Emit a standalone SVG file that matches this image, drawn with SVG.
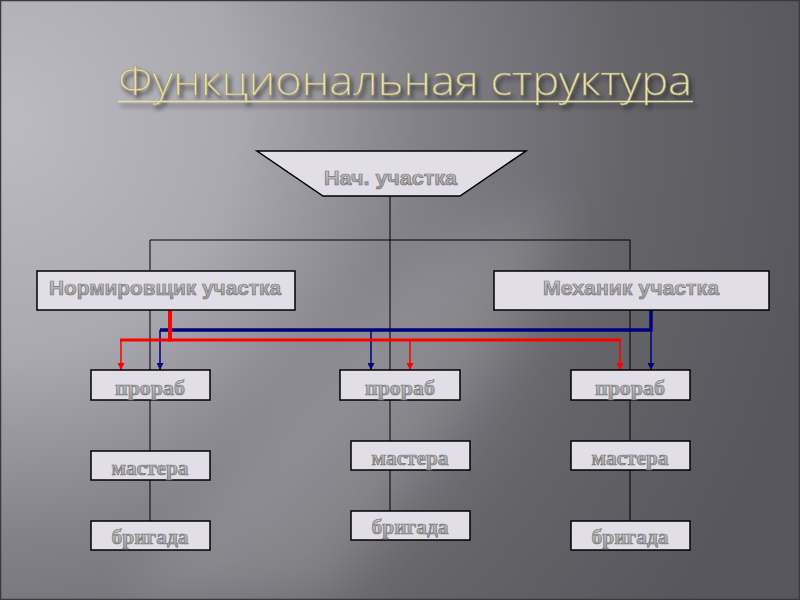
<svg xmlns="http://www.w3.org/2000/svg" width="800" height="600" viewBox="0 0 800 600">
<defs>
<radialGradient id="bg" cx="0" cy="120" r="840" gradientUnits="userSpaceOnUse">
<stop offset="0" stop-color="#bdbbc2"/>
<stop offset="0.28" stop-color="#aba9b0"/>
<stop offset="0.5" stop-color="#828188"/>
<stop offset="0.75" stop-color="#656469"/>
<stop offset="1" stop-color="#57565c"/>
</radialGradient>
<linearGradient id="txt" x1="0" y1="0" x2="0" y2="1">
<stop offset="0" stop-color="#d2d2d4"/>
<stop offset="1" stop-color="#9a9a9c"/>
</linearGradient>
<filter id="blur" x="-50%" y="-50%" width="200%" height="200%"><feGaussianBlur stdDeviation="25"/></filter>
<filter id="shadow" x="-5%" y="-20%" width="110%" height="160%"><feDropShadow dx="3" dy="4" stdDeviation="2" flood-color="#222" flood-opacity="0.7"/></filter>
<marker id="ar" viewBox="0 0 8 8" refX="8" refY="4" markerWidth="7" markerHeight="7" markerUnits="userSpaceOnUse" orient="auto"><path d="M0,0 L8,4 L0,8 Z" fill="#ff0000"/></marker>
<marker id="ab" viewBox="0 0 8 8" refX="8" refY="4" markerWidth="7" markerHeight="7" markerUnits="userSpaceOnUse" orient="auto"><path d="M0,0 L8,4 L0,8 Z" fill="#000080"/></marker>
<style>
.box{fill:#e1dee7;stroke:#000;stroke-width:1.5}
.ln{stroke:#000;stroke-width:1;fill:none}
.sans{font-family:"Liberation Sans",Arial,sans-serif;font-weight:bold;fill:url(#txt);stroke:#737375;stroke-width:0.7;text-anchor:middle}
.ser{font-family:"Liberation Serif","Times New Roman",serif;font-weight:bold;fill:url(#txt);stroke:#737375;stroke-width:0.7;text-anchor:middle;font-size:22px}
.red{stroke:#ff0000;fill:none}
.blue{stroke:#000080;fill:none}
</style>
</defs>
<rect x="0" y="0" width="800" height="600" fill="url(#bg)"/>
<polygon points="120,600 330,600 520,330 560,200 430,250 280,420" fill="#ffffff" opacity="0.12" filter="url(#blur)"/>
<rect x="0.5" y="0.5" width="799" height="599" fill="none" stroke="#3a3a3e" stroke-width="1.5"/>

<g id="title" filter="url(#shadow)">
<text x="118" y="95" font-family="'Open Sans','Liberation Sans',sans-serif" font-weight="300" font-size="40" fill="#e8e0ac" stroke="#a09868" stroke-width="0.5" textLength="574" lengthAdjust="spacingAndGlyphs">Функциональная структура</text>
<line x1="118" y1="101.5" x2="693" y2="101.5" stroke="#e8e0ac" stroke-width="1.5"/>
</g>

<g id="connectors">
<line class="ln" x1="390" y1="196" x2="390" y2="370"/>
<polyline class="ln" points="150,270 150,240 630,240 630,270"/>
<line class="ln" x1="150" y1="310" x2="150" y2="521"/>
<line class="ln" x1="630" y1="310" x2="630" y2="521"/>
<line class="ln" x1="390" y1="400" x2="390" y2="511"/>
<polyline class="blue" stroke-width="3.5" points="651,310 651,330 160,330"/>
<line class="blue" stroke-width="1.5" x1="160" y1="330" x2="160" y2="370" marker-end="url(#ab)"/>
<line class="blue" stroke-width="1.5" x1="371" y1="330" x2="371" y2="370" marker-end="url(#ab)"/>
<line class="blue" stroke-width="1.5" x1="651" y1="330" x2="651" y2="370" marker-end="url(#ab)"/>
<line class="red" stroke-width="4" x1="170" y1="310" x2="170" y2="341.5"/>
<line class="red" stroke-width="3" x1="120" y1="340" x2="621" y2="340"/>
<line class="red" stroke-width="1.5" x1="121" y1="340" x2="121" y2="370" marker-end="url(#ar)"/>
<line class="red" stroke-width="1.5" x1="410" y1="340" x2="410" y2="370" marker-end="url(#ar)"/>
<line class="red" stroke-width="1.5" x1="620" y1="340" x2="620" y2="370" marker-end="url(#ar)"/>
</g>

<g id="nach">
<polygon class="box" points="257,151 526,151 460,196 323,196"/>
<text class="sans" x="390.5" y="185" font-size="20" textLength="133" lengthAdjust="spacingAndGlyphs">Нач. участка</text>
</g>
<g id="normirovshik">
<rect class="box" x="37" y="271" width="258" height="39"/>
<text class="sans" x="165" y="295" font-size="21" textLength="232" lengthAdjust="spacingAndGlyphs">Нормировщик участка</text>
</g>
<g id="mekhanik">
<rect class="box" x="494" y="271" width="275" height="39"/>
<text class="sans" x="631" y="295" font-size="21" textLength="176" lengthAdjust="spacingAndGlyphs">Механик участка</text>
</g>

<g id="prorab1"><rect class="box" x="91" y="370" width="119" height="30"/><text class="ser" x="150" y="395" textLength="70" lengthAdjust="spacingAndGlyphs">прораб</text></g>
<g id="prorab2"><rect class="box" x="340" y="370" width="120" height="30"/><text class="ser" x="400" y="395" textLength="70" lengthAdjust="spacingAndGlyphs">прораб</text></g>
<g id="prorab3"><rect class="box" x="571" y="370" width="119" height="30"/><text class="ser" x="630" y="395" textLength="70" lengthAdjust="spacingAndGlyphs">прораб</text></g>

<g id="mastera1"><rect class="box" x="91" y="451" width="119" height="29"/><text class="ser" x="150" y="475" textLength="77" lengthAdjust="spacingAndGlyphs">мастера</text></g>
<g id="mastera2"><rect class="box" x="351" y="441" width="119" height="29"/><text class="ser" x="410" y="465" textLength="77" lengthAdjust="spacingAndGlyphs">мастера</text></g>
<g id="mastera3"><rect class="box" x="571" y="441" width="119" height="29"/><text class="ser" x="630" y="465" textLength="77" lengthAdjust="spacingAndGlyphs">мастера</text></g>

<g id="brigada1"><rect class="box" x="91" y="521" width="119" height="29"/><text class="ser" x="150" y="544" textLength="77" lengthAdjust="spacingAndGlyphs">бригада</text></g>
<g id="brigada2"><rect class="box" x="351" y="511" width="119" height="29"/><text class="ser" x="410" y="534" textLength="77" lengthAdjust="spacingAndGlyphs">бригада</text></g>
<g id="brigada3"><rect class="box" x="571" y="521" width="119" height="29"/><text class="ser" x="630" y="544" textLength="77" lengthAdjust="spacingAndGlyphs">бригада</text></g>
</svg>
